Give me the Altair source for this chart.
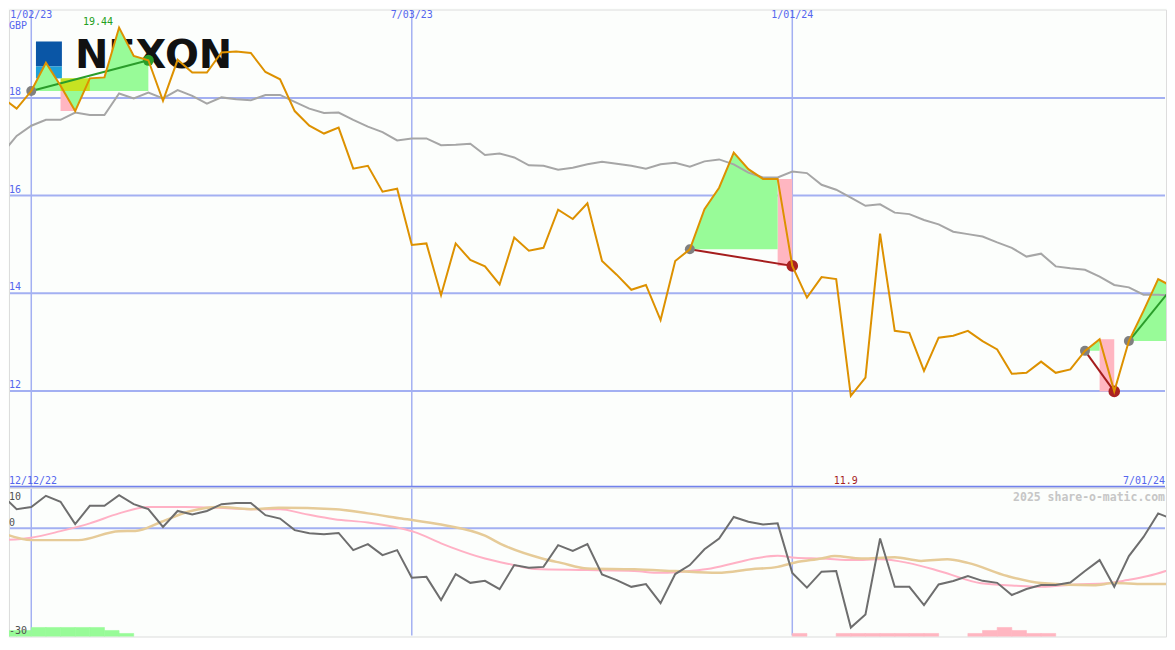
import altair as alt
import pandas as pd

# ------------------------------------------------------------------ data
# weekly index 0..80 (week 2 = 1/02/23, week 28 = 7/03/23, week 54 = 1/01/24, week 80 = 7/01/24)
PRICE = [18.01, 17.78, 18.14, 18.72, 18.25, 17.73, 18.40, 18.42, 19.44, 18.86,
         18.77, 17.94, 18.78, 18.52, 18.52, 18.93, 18.95, 18.92, 18.53, 18.38,
         17.73, 17.43, 17.27, 17.39, 16.55, 16.61, 16.08, 16.14, 14.99, 15.02,
         13.96, 15.02, 14.68, 14.55, 14.18, 15.14, 14.87, 14.93, 15.71, 15.52,
         15.84, 14.66, 14.38, 14.07, 14.17, 13.45, 14.66, 14.90, 15.72, 16.16,
         16.88, 16.54, 16.34, 16.34, 14.56, 13.91, 14.33, 14.29, 11.90, 12.27,
         15.22, 13.23, 13.19, 12.41, 13.09, 13.13, 13.23, 13.02, 12.85, 12.35,
         12.37, 12.60, 12.37, 12.44, 12.82, 13.06, 11.99, 13.02, 13.64, 14.29,
         14.13]
MA = [16.86, 17.22, 17.43, 17.55, 17.55, 17.70, 17.65, 17.65, 18.09, 17.99,
      18.11, 17.99, 18.16, 18.04, 17.88, 18.01, 17.97, 17.95, 18.06, 18.06,
      17.92, 17.78, 17.69, 17.70, 17.55, 17.41, 17.30, 17.13, 17.17, 17.17,
      17.03, 17.04, 17.06, 16.83, 16.86, 16.78, 16.62, 16.61, 16.53, 16.57,
      16.64, 16.69, 16.65, 16.61, 16.55, 16.64, 16.67, 16.59, 16.70, 16.74,
      16.64, 16.47, 16.37, 16.37, 16.49, 16.46, 16.22, 16.12, 15.96, 15.79,
      15.82, 15.65, 15.62, 15.50, 15.41, 15.26, 15.21, 15.16, 15.04, 14.93,
      14.75, 14.81, 14.55, 14.51, 14.48, 14.34, 14.17, 14.12, 13.97, 13.97,
      13.95]
MOM = [8.25, 4.75, 5.3, 8.1, 6.6, 1.0, 5.6, 5.6, 8.25, 6.0,
       4.75, 0.3, 4.3, 3.4, 4.3, 6.0, 6.3, 6.3, 3.25, 2.4,
       -0.5, -1.3, -1.5, -1.2, -5.5, -4.0, -6.75, -5.5, -12.4, -12.2,
       -18.0, -11.5, -13.7, -13.2, -15.3, -9.25, -9.9, -9.7, -4.25, -5.7,
       -4.0, -11.6, -13.0, -14.7, -14.0, -18.8, -11.5, -9.25, -5.3, -2.6,
       2.8, 1.6, 0.9, 1.2, -11.2, -14.9, -10.9, -10.75, -24.9, -21.6,
       -2.6, -14.7, -14.7, -19.25, -14.1, -13.25, -12.0, -13.2, -13.7, -16.75,
       -15.25, -14.25, -14.25, -13.6, -10.75, -8.0, -14.7, -7.0, -2.2, 3.7,
       2.25]
PINK_IDX = [0, 2, 4, 6, 8, 10, 12.5, 14.8, 17, 19, 20.5, 22.7, 25, 27.3, 28.2, 30,
            30.7, 33, 34.8, 36.4, 40, 43.2, 45, 46.4, 48.2, 50, 51.4, 53, 54.2, 56,
            58.2, 60, 61.9, 64.2, 66.9, 69.2, 71, 73.3, 75.5, 76.9, 78.3, 80.2]
PINK_VAL = [-3.0, -2.4, -0.75, 1.2, 3.7, 5.3, 5.3, 5.1, 4.75, 4.75, 3.7, 2.25, 1.4, -0.1,
            -1.0, -3.8, -4.8, -7.6, -9.1, -10.25, -10.5, -10.75, -11.2, -10.9, -10.25,
            -8.8, -7.6, -6.9, -7.4, -7.6, -8.0, -7.8, -8.7, -10.9, -13.8, -14.4, -14.7,
            -14.1, -13.8, -13.0, -12.0, -9.9]
TAN_IDX = [0, 2, 5.2, 8, 9.1, 10.9, 12.7, 14.8, 17, 18.9, 22.8, 25, 27.3, 30, 33, 34.1,
           36.9, 38.2, 40, 43.2, 46, 48.9, 51.2, 53, 54.2, 56, 56.9, 58.7, 61, 62.8,
           64.6, 66, 68.7, 71, 74.6, 76, 78, 80.2]
TAN_VAL = [-1.2, -3.0, -3.0, -0.75, -0.7, 1.6, 4.1, 5.3, 4.75, 5.1, 4.75, 3.7, 2.4, 0.9,
           -1.9, -4.0, -7.6, -8.7, -10.1, -10.3, -10.75, -11.2, -10.3, -9.7, -8.6, -7.6,
           -7.0, -7.6, -7.3, -8.2, -7.8, -8.7, -12.0, -13.75, -14.3, -13.75, -14.0, -14.0]

GRID_IDX = [2, 28, 54]
GRID_LABELS = ["1/02/23", "7/03/23", "1/01/24"]
PRICE_TICKS = [18, 16, 14, 12]
LOWER_TOP_TICK = [10]
LOWER_TICKS = [0, -30]
START_LABEL = "12/12/22"
END_LABEL = "7/01/24"
CURRENCY = "GBP"
WATERMARK = "2025 share-o-matic.com"
LOGO_TEXT = "NEXON"

RALLIES = [(2, 10), (47, 53), (74, 75), (77, 80)]   # green fills (start, end)
DROPS = [(4, 5), (53, 54), (75, 76)]               # pink fills (from, to)
HIGHLIGHT = (4, 6, 2)                              # yellow-green patch (from, to, base week)
TRENDS_UP = [(2, 10), (77, 80)]
TRENDS_DOWN = [(47, 54), (74, 76)]
GRAY_DOTS = [2, 47, 74, 77]
RED_DOTS = [54, 76]
GREEN_DOTS = [10]
MAX_IDX = 8
MIN_IDX = 58

BAR_IDX = [0, 1, 2, 3, 4, 5, 6, 7, 8,
           54, 57, 58, 59, 60, 61, 62, 63, 66, 67, 68, 69, 70, 71]
BAR_LVL = [2, 2, 3, 3, 3, 3, 3, 2, 1,
           1, 1, 1, 1, 1, 1, 1, 1, 1, 2, 3, 2, 1, 1]
BAR_KIND = ["up"] * 9 + ["down"] * 14

# ------------------------------------------------------------------ layout
W = 1159
H_TOP = 479
H_BOT = 149
X_DOMAIN = [0.4775, 79.536]
TOP_DOMAIN = [10.0176, 19.809]
BOT_DOMAIN = [-27.125, 10.125]
BAR_UNIT = 0.75

FONT = "DejaVu Sans Mono"
FS = 10
BLUE_TXT = "#5566ee"
GRID = "#a3b0f2"
BORDER = "#7282ec"
ORANGE = "#dd9100"
GREEN_FILL = "#98fb98"
PINK_FILL = "#ffb6c1"
GREEN_LINE = "#2a9d2a"
RED_LINE = "#a51d1d"

xs = alt.Scale(domain=X_DOMAIN, nice=False, zero=False)
yts = alt.Scale(domain=TOP_DOMAIN, nice=False, zero=False)
ybs = alt.Scale(domain=BOT_DOMAIN, nice=False, zero=False, clamp=True)


def X(f):
    return alt.X(f"{f}:Q", scale=xs, axis=None)


def YT(f):
    return alt.Y(f"{f}:Q", scale=yts, axis=None)


def YB(f):
    return alt.Y(f"{f}:Q", scale=ybs, axis=None)


weeks = list(range(len(PRICE)))
df = pd.DataFrame({"idx": weeks, "price": PRICE, "ma": MA, "mom": MOM})
one = pd.DataFrame({"a": [0]})

# fills
rows = []
for k, (s, e) in enumerate(RALLIES):
    for i in range(s, e + 1):
        rows.append({"seg": k, "idx": i, "price": PRICE[i], "base": PRICE[s]})
df_green = pd.DataFrame(rows)
df_pink = pd.DataFrame([{"x": a, "x2": b, "y": PRICE[a], "y2": PRICE[b]} for a, b in DROPS])
df_hi = pd.DataFrame([{"x": HIGHLIGHT[0], "x2": HIGHLIGHT[1],
                       "y": PRICE[HIGHLIGHT[1]], "y2": PRICE[HIGHLIGHT[2]]}])


def seg_df(segs):
    r = []
    for k, (a, b) in enumerate(segs):
        r.append({"seg": k, "idx": a, "price": PRICE[a]})
        r.append({"seg": k, "idx": b, "price": PRICE[b]})
    return pd.DataFrame(r)


df_up = seg_df(TRENDS_UP)
df_down = seg_df(TRENDS_DOWN)
df_gray = pd.DataFrame({"idx": GRAY_DOTS, "price": [PRICE[i] for i in GRAY_DOTS]})
df_red = pd.DataFrame({"idx": RED_DOTS, "price": [PRICE[i] for i in RED_DOTS]})
df_gdot = pd.DataFrame({"idx": GREEN_DOTS, "price": [PRICE[i] for i in GREEN_DOTS]})
df_grid = pd.DataFrame({"idx": GRID_IDX, "label": GRID_LABELS})
df_pt = pd.DataFrame({"v": PRICE_TICKS, "label": [str(v) for v in PRICE_TICKS]})
df_max = pd.DataFrame({"idx": [MAX_IDX], "price": [PRICE[MAX_IDX]],
                       "label": [f"{PRICE[MAX_IDX]:.2f}"]})
df_min = pd.DataFrame({"idx": [MIN_IDX], "label": [f"{PRICE[MIN_IDX]:.1f}"]})

# ------------------------------------------------------------------ upper panel
logo_dark = alt.Chart(one).mark_rect(color="#0a56a6").encode(
    x=alt.value(27), x2=alt.value(53), y=alt.value(32), y2=alt.value(57))
logo_light = alt.Chart(one).mark_rect(color="#1fa0d8").encode(
    x=alt.value(27), x2=alt.value(53), y=alt.value(57), y2=alt.value(69))
logo_txt = alt.Chart(pd.DataFrame({"t": [LOGO_TEXT]})).mark_text(
    font="DejaVu Sans", fontSize=40, fontWeight="bold", color="#111111",
    align="left", baseline="alphabetic").encode(
    x=alt.value(66), y=alt.value(58.7), text="t:N")

hgrid = alt.Chart(df_pt).mark_rule(color=GRID, strokeWidth=2).encode(
    y=YT("v"), x=alt.value(1), x2=alt.value(W - 1))
vgrid = alt.Chart(df_grid).mark_rule(color=GRID, strokeWidth=1.5).encode(
    x=X("idx"), y=alt.value(1), y2=alt.value(H_TOP - 1))
border = alt.Chart(one).mark_rule(color=BORDER, strokeWidth=1.8).encode(
    y=alt.value(477.9), x=alt.value(1), x2=alt.value(W - 1))

pink = alt.Chart(df_pink).mark_rect(color=PINK_FILL, clip=True).encode(
    x=X("x"), x2="x2:Q", y=YT("y"), y2="y2:Q")
green = alt.Chart(df_green).mark_area(color=GREEN_FILL, opacity=1, clip=True).encode(
    x=X("idx"), y=YT("price"), y2="base:Q", detail="seg:N")
hilite = alt.Chart(df_hi).mark_rect(color="#c6e322", clip=True).encode(
    x=X("x"), x2="x2:Q", y=YT("y"), y2="y2:Q")

ma_line = alt.Chart(df).mark_line(color="#a6a6a6", strokeWidth=2, clip=True).encode(
    x=X("idx"), y=YT("ma"))
up_lines = alt.Chart(df_up).mark_line(color=GREEN_LINE, strokeWidth=2, clip=True).encode(
    x=X("idx"), y=YT("price"), detail="seg:N")
down_lines = alt.Chart(df_down).mark_line(color=RED_LINE, strokeWidth=2, clip=True).encode(
    x=X("idx"), y=YT("price"), detail="seg:N")
gray_dots = alt.Chart(df_gray).mark_circle(color="#808080", size=100, opacity=1).encode(
    x=X("idx"), y=YT("price"))
red_dots = alt.Chart(df_red).mark_circle(color="#aa2222", size=135, opacity=1).encode(
    x=X("idx"), y=YT("price"))
green_dots = alt.Chart(df_gdot).mark_circle(color=GREEN_LINE, size=120, opacity=1).encode(
    x=X("idx"), y=YT("price"))
price_line = alt.Chart(df).mark_line(color=ORANGE, strokeWidth=2, clip=True).encode(
    x=X("idx"), y=YT("price"))

date_lbl = alt.Chart(df_grid).mark_text(font=FONT, fontSize=FS, color=BLUE_TXT,
                                        align="center", baseline="top").encode(
    x=X("idx"), y=alt.value(0), text="label:N")
cur_lbl = alt.Chart(pd.DataFrame({"t": [CURRENCY]})).mark_text(
    font=FONT, fontSize=FS, color=BLUE_TXT, align="left", baseline="top").encode(
    x=alt.value(0), y=alt.value(11), text="t:N")
tick_lbl = alt.Chart(df_pt).mark_text(font=FONT, fontSize=FS, color=BLUE_TXT,
                                      align="left", baseline="alphabetic", dy=-3).encode(
    x=alt.value(0), y=YT("v"), text="label:N")
max_lbl = alt.Chart(df_max).mark_text(font=FONT, fontSize=FS, color="#22a022",
                                      align="right", baseline="alphabetic", dx=-6, dy=-3).encode(
    x=X("idx"), y=YT("price"), text="label:N")
min_lbl = alt.Chart(df_min).mark_text(font=FONT, fontSize=FS, color=RED_LINE,
                                      align="center", baseline="alphabetic", dx=-5).encode(
    x=X("idx"), y=alt.value(475), text="label:N")
start_lbl = alt.Chart(pd.DataFrame({"t": [START_LABEL]})).mark_text(
    font=FONT, fontSize=FS, color=BLUE_TXT, align="left", baseline="alphabetic").encode(
    x=alt.value(0), y=alt.value(475), text="t:N")
end_lbl = alt.Chart(pd.DataFrame({"t": [END_LABEL]})).mark_text(
    font=FONT, fontSize=FS, color=BLUE_TXT, align="right", baseline="alphabetic").encode(
    x=alt.value(W - 1), y=alt.value(475), text="t:N")

top = alt.layer(
    logo_dark, logo_light, logo_txt,
    hgrid, vgrid, border,
    pink, green, hilite,
    ma_line, up_lines, down_lines,
    gray_dots, red_dots, green_dots,
    price_line,
    date_lbl, cur_lbl, tick_lbl, max_lbl, min_lbl, start_lbl, end_lbl,
).properties(width=W, height=H_TOP)

# ------------------------------------------------------------------ lower panel
df_pk = pd.DataFrame({"idx": PINK_IDX, "v": PINK_VAL})
df_tn = pd.DataFrame({"idx": TAN_IDX, "v": TAN_VAL})
df_bar = pd.DataFrame({"idx": BAR_IDX, "kind": BAR_KIND,
                       "idx2": [i + 1 for i in BAR_IDX],
                       "top": [BOT_DOMAIN[0] + l * BAR_UNIT for l in BAR_LVL],
                       "base": [BOT_DOMAIN[0]] * len(BAR_IDX)})
df_lt = pd.DataFrame({"v": LOWER_TICKS, "label": [str(v) for v in LOWER_TICKS]})
df_ltt = pd.DataFrame({"v": LOWER_TOP_TICK, "label": [str(v) for v in LOWER_TOP_TICK]})

b_vgrid = alt.Chart(df_grid).mark_rule(color=GRID, strokeWidth=1.5).encode(
    x=X("idx"), y=alt.value(1), y2=alt.value(H_BOT - 1))
b_zero = alt.Chart(pd.DataFrame({"v": [0]})).mark_rule(color=GRID, strokeWidth=2).encode(
    y=YB("v"), x=alt.value(1), x2=alt.value(W - 1))
bars_up = alt.Chart(df_bar[df_bar.kind == "up"]).mark_rect(
    color=GREEN_FILL, stroke=GREEN_FILL, strokeWidth=0.6, clip=True).encode(
    x=X("idx"), x2="idx2:Q", y=YB("top"), y2="base:Q")
bars_dn = alt.Chart(df_bar[df_bar.kind == "down"]).mark_rect(
    color=PINK_FILL, stroke=PINK_FILL, strokeWidth=0.6, clip=True).encode(
    x=X("idx"), x2="idx2:Q", y=YB("top"), y2="base:Q")
pk_line = alt.Chart(df_pk).mark_line(color="#ffb1c5", strokeWidth=2, interpolate="monotone",
                                     clip=True).encode(x=X("idx"), y=YB("v"))
tn_line = alt.Chart(df_tn).mark_line(color="#e6cb98", strokeWidth=2.5, interpolate="monotone",
                                     clip=True).encode(x=X("idx"), y=YB("v"))
mom_line = alt.Chart(df).mark_line(color="#6e6e6e", strokeWidth=2, clip=True).encode(
    x=X("idx"), y=YB("mom"))
lt_lbl = alt.Chart(df_lt).mark_text(font=FONT, fontSize=FS, color="#505050", align="left",
                                    baseline="alphabetic", dy=-2.5).encode(
    x=alt.value(0), y=YB("v"), text="label:N")
ltt_lbl = alt.Chart(df_ltt).mark_text(font=FONT, fontSize=FS, color="#505050", align="left",
                                      baseline="top", dy=4).encode(
    x=alt.value(0), y=YB("v"), text="label:N")
wm = alt.Chart(pd.DataFrame({"t": [WATERMARK]})).mark_text(
    font=FONT, fontSize=11.5, fontWeight="bold", color="#c6c6c6",
    align="right", baseline="top").encode(x=alt.value(W - 1), y=alt.value(4), text="t:N")

bottom = alt.layer(
    b_vgrid, b_zero, bars_up, bars_dn, pk_line, tn_line, mom_line, lt_lbl, ltt_lbl, wm
).properties(width=W, height=H_BOT)

chart = alt.vconcat(top, bottom, spacing=0, bounds="flush").resolve_scale(
    x="independent", y="independent"
).properties(padding=0).configure_view(strokeWidth=0).configure(background="#fcfefc")

chart.save("out.html", embed_options={"renderer": "svg", "actions": False})
